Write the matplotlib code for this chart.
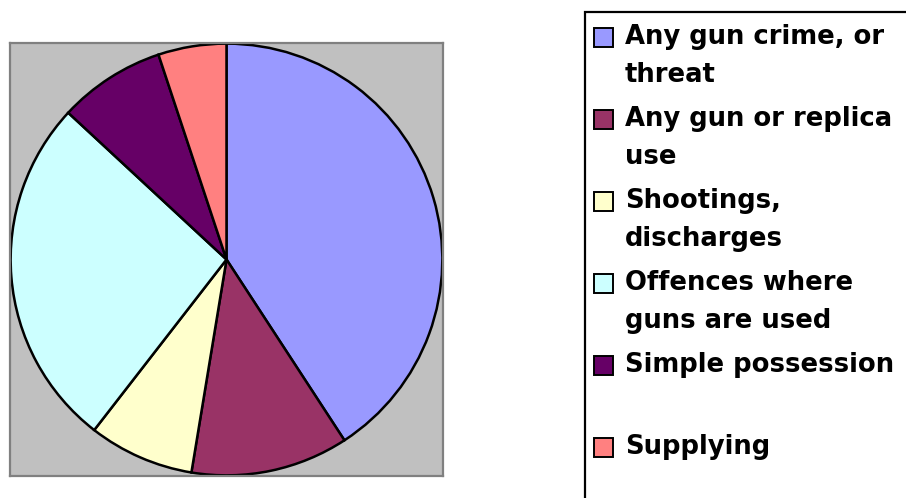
import matplotlib.pyplot as plt
from matplotlib.patches import Rectangle

# data (share of pie, %)
categories = ["Any gun crime, or\nthreat", "Any gun or replica\nuse", "Shootings,\ndischarges",
              "Offences where\nguns are used", "Simple possession\n", "Supplying"]
values = [40.8, 11.8, 7.9, 26.4, 8.0, 5.1]
colors = ["#9999FF", "#993366", "#FFFFCC", "#CCFFFF", "#660066", "#FF8080"]

W, H = 906, 498
fig = plt.figure(figsize=(W / 100, H / 100), dpi=100)

# plot area (grey box)
ax = fig.add_axes([10 / W, (H - 476) / H, 433 / W, 433 / H])
ax.pie(values, colors=colors, startangle=90, counterclock=False, radius=1.0,
       frame=True, wedgeprops=dict(edgecolor="black", linewidth=1.8))
ax.set_facecolor("#C0C0C0")
ax.set_frame_on(True)
for s in ax.spines.values():
    s.set_visible(True)
    s.set_color("#808080")
    s.set_linewidth(1.6)
ax.set_xlim(-1.003, 1.003)
ax.set_ylim(-1.003, 1.003)
ax.set_aspect("auto")
ax.set_xticks([])
ax.set_yticks([])

# legend drawn by hand, Excel style (box runs off the right/bottom edge)
def fx(px):
    return px / W

def fy(py):
    return 1 - py / H

fig.patches.append(Rectangle((fx(585), fy(H + 20)), fx(400), (H + 20 - 12) / H,
                             transform=fig.transFigure, facecolor="white",
                             edgecolor="black", linewidth=1.6, zorder=0))

for i, (lab, col) in enumerate(zip(categories, colors)):
    yc = 37 + i * 82
    fig.patches.append(Rectangle((fx(594), fy(yc + 10)), fx(19), 19 / H,
                                 transform=fig.transFigure, facecolor=col,
                                 edgecolor="black", linewidth=1.4, zorder=2))
    for j, line in enumerate(lab.split("\n")):
        if line:
            fig.text(fx(625), fy(yc + j * 38), line, fontsize=18.6, fontweight="bold",
                     family="DejaVu Sans", va="center", ha="left", zorder=3)

fig.savefig("out.png", dpi=100)
